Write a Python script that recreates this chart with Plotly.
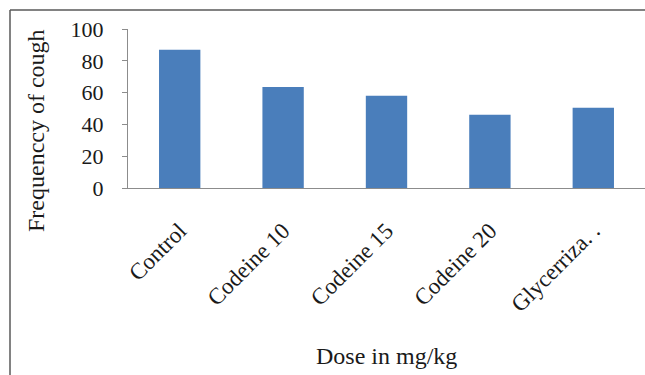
import plotly.graph_objects as go

categories = ["Control", "Codeine 10", "Codeine 15", "Codeine 20", "Glycerriza. ."]
values = [87, 63.5, 58, 46, 50.5]
y_ticks = [0, 20, 40, 60, 80, 100]

W, H = 645, 375
L, R, T, B = 128, 0, 29, 187
pw, ph = W - L - R, H - T - B

def px(x):
    return (x - L) / pw

def py(y):
    return (H - B - y) / ph

fig = go.Figure()
fig.add_trace(go.Bar(x=categories, y=values, marker=dict(color="#4a7ebb", line=dict(width=0)),
                     width=0.4))

font = "Liberation Serif, Times New Roman, serif"
fig.update_layout(
    width=W, height=H,
    margin=dict(l=L, r=R, t=T, b=B),
    paper_bgcolor="white", plot_bgcolor="white",
    showlegend=False,
    font=dict(family=font, color="#1a1a1a"),
    xaxis=dict(showline=True, linecolor="#8c8c8c", linewidth=1.3, ticks="", tickangle=-45,
               ticklabelstandoff=19,
               tickfont=dict(size=23, family=font, color="#1a1a1a"), showgrid=False),
    yaxis=dict(range=[0, 100], tickvals=y_ticks, showline=True, linecolor="#8c8c8c", linewidth=1.3,
               ticks="outside", ticklen=5, tickcolor="#8c8c8c", showgrid=False, zeroline=False,
               ticklabelstandoff=14,
               tickfont=dict(size=22, family=font, color="#1a1a1a")),
)

fig.add_annotation(text="Frequenccy of cough", xref="paper", yref="paper",
                   x=px(36), y=py(131), xanchor="center", yanchor="middle",
                   textangle=-90, showarrow=False,
                   font=dict(size=24, family=font, color="#1a1a1a"))
fig.add_annotation(text="Dose in mg/kg", xref="paper", yref="paper",
                   x=px(386), y=py(356), xanchor="center", yanchor="middle", showarrow=False,
                   font=dict(size=24, family=font, color="#1a1a1a"))

fig.add_shape(type="line", xref="paper", yref="paper", x0=px(10), x1=px(660), y0=py(10), y1=py(10),
              line=dict(color="#595959", width=1.5))
fig.add_shape(type="line", xref="paper", yref="paper", x0=px(10), x1=px(10), y0=py(10), y1=py(390),
              line=dict(color="#595959", width=1.5))

fig.write_html("out.html", config={"displayModeBar": False},
               post_script="document.body.style.margin='0';")
